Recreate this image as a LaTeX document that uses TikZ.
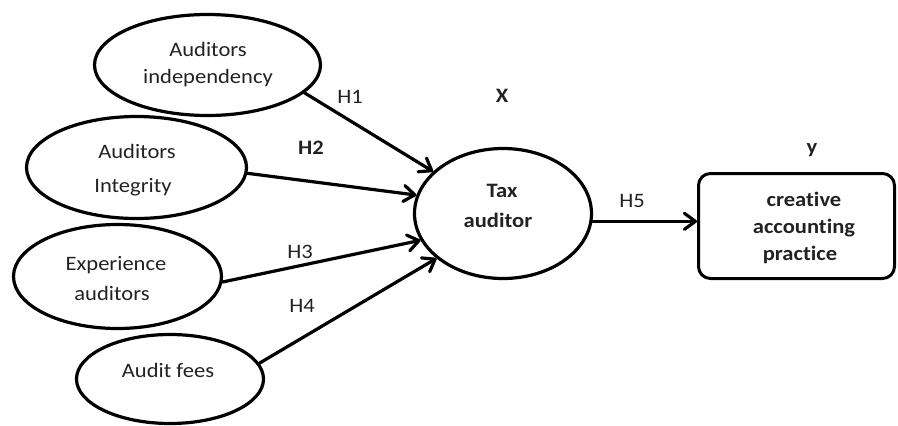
\documentclass[tikz,border=0pt]{standalone}
\usepackage{fontspec}
\setmainfont{Carlito}[FakeStretch=1.1,Ligatures=NoCommon]
\usetikzlibrary{arrows.meta,shapes.geometric}
\definecolor{txt}{HTML}{222222}
\begin{document}
\begin{tikzpicture}[x=1pt,y=-1pt,
  oval/.style={ellipse,draw,line width=3.2pt,inner sep=0pt},
  lbl/.style={anchor=base,inner sep=0pt,text=txt,font=\fontsize{20.5}{24}\selectfont},
  blbl/.style={anchor=base,inner sep=0pt,text=txt,font=\fontsize{20.5}{24}\selectfont\bfseries},
  link/.style={line width=3.2pt,line cap=round,-{Straight Barb[length=11pt,width=16pt,line width=3.2pt,round]}}
]
\useasboundingbox (0,0) rectangle (898,426);
% shapes
\node[oval,minimum width=226pt,minimum height=101pt] (e1) at (207.5,65) {};
\node[oval,minimum width=220pt,minimum height=102pt] (e2) at (136.5,167.5) {};
\node[oval,minimum width=208pt,minimum height=104pt] (e3) at (117.5,276.5) {};
\node[oval,minimum width=187pt,minimum height=89pt] (e4) at (170,379) {};
\node[oval,minimum width=177pt,minimum height=130pt] (tax) at (503,213.5) {};
\node[draw,line width=3pt,rounded corners=12pt,minimum width=196pt,minimum height=105pt,inner sep=0pt] (rect) at (796.5,226) {};
% texts
\node[lbl] (t1a) at (208,56) {Auditors};
\node[lbl] (t1b) at (208,83) {independency};
\node[lbl] (t2a) at (137,158) {Auditors};
\node[lbl] (t2b) at (133,192) {Integrity};
\node[lbl] (t3a) at (116,270) {Experience};
\node[lbl] (t3b) at (112,300) {auditors};
\node[lbl] (t4) at (168,377) {Audit fees};
\node[blbl] (tt1) at (502,197) {Tax};
\node[blbl] (tt2) at (498,227) {auditor};
\node[blbl] (r1) at (804,206) {creative};
\node[blbl] (r2) at (804,233) {accounting};
\node[blbl] (r3) at (800,260) {practice};
\node[blbl] (lx) at (502,102) {X};
\node[blbl] (ly) at (812,153) {y};
\node[lbl] (h1) at (350,103) {H1};
\node[blbl] (h2) at (311,154) {H2};
\node[lbl] (h3) at (300,258) {H3};
\node[lbl] (h4) at (302,312) {H4};
\node[lbl] (h5) at (632,207) {H5};
% connectors
\draw[link] (e1.-16) -- (tax.149);
\draw[link] (e2.-3) -- (tax.168);
\draw[link] (e3.-3) -- (tax.198);
\draw[link] (e4.10) -- (tax.-146);
\draw[link] (tax.-5) -- (tax.-5 -| rect.west);
\end{tikzpicture}
\end{document}
